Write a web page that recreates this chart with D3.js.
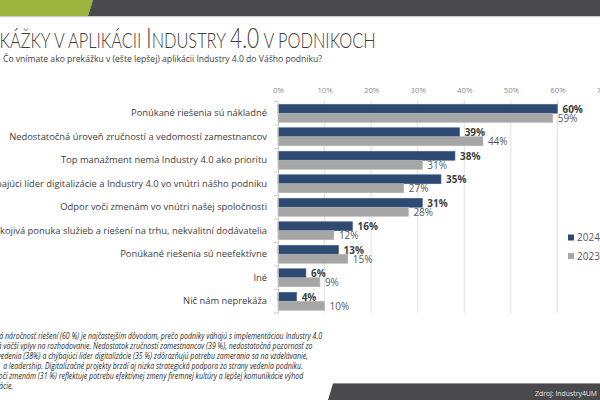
<!DOCTYPE html>
<html>
<head>
<meta charset="utf-8">
<script src="https://cdn.jsdelivr.net/npm/d3@7"></script>
<style>
  html, body { margin: 0; padding: 0; background: #fff; }
  svg { display: block; }
</style>
</head>
<body>
<svg id="chart" width="600" height="400"></svg>
<script>
// ---------------- DATA ----------------
const categories = [
  "Ponúkané riešenia sú nákladné",
  "Nedostatočná úroveň zručností a vedomostí zamestnancov",
  "Top manažment nemá Industry 4.0 ako prioritu",
  "Chýbajúci líder digitalizácie a Industry 4.0 vo vnútri nášho podniku",
  "Odpor voči zmenám vo vnútri našej spoločnosti",
  "Neuspokojivá ponuka služieb a riešení na trhu, nekvalitní dodávatelia",
  "Ponúkané riešenia sú neefektívne",
  "Iné",
  "Nič nám neprekáža"
];
const values2024 = [60, 39, 38, 35, 31, 16, 13, 6, 4];
const values2023 = [59, 44, 31, 27, 28, 12, 15, 9, 10];
const seriesNames = ["2024", "2023"];
const xTicks = [0, 10, 20, 30, 40, 50, 60, 70];

const titleParts = [
  { t: "P", big: true }, { t: "REKÁŽKY V APLIKÁCII ", big: false },
  { t: "I", big: true }, { t: "NDUSTRY ", big: false },
  { t: "4.0", big: true }, { t: " V PODNIKOCH", big: false }
];
const subtitle = "Čo vnímate ako prekážku v (ešte lepšej) aplikácii Industry 4.0 do Vášho podniku?";
const noteLines = [
  { text: "Finančná náročnosť riešení (60 %) je najčastejším dôvodom, prečo podniky váhajú s implementáciou Industry 4.0", anchor: "náročnosť", x: 5 },
  { text: "a má väčší vplyv na rozhodovanie. Nedostatok zručností zamestnancov  (39 %), nedostatočná pozornosť zo", anchor: "väčší", x: 3.3 },
  { text: "strany vedenia (38%) a chýbajúci líder digitalizácie (35 %) zdôrazňujú potrebu zamerania sa na vzdelávanie,", anchor: "edenia", x: 0.8 },
  { text: "a leadership. Digitalizačné projekty brzdí aj nízka strategická podpora zo strany vedenia podniku.", anchor: "a leadership", x: 3.3 },
  { text: "Odpor voči zmenám (31 %) reflektuje potrebu efektívnej zmeny firemnej kultúry a lepšej komunikácie výhod", anchor: "či zmenám", x: 2.5 },
  { text: "digitalizácie.", anchor: "cie.", x: 3 }
];
const sourceText = "Zdroj: Industry4UM";

// ---------------- SETUP ----------------
const svg = d3.select("#chart");
const FONT = "'Open Sans', 'DejaVu Sans', sans-serif";
const colors = { "2024": "#2e4a73", "2023": "#a6a6a6" };

// top banner
svg.append("polygon").attr("points", "0,0 93,0 88,16 0,16").attr("fill", "#9db53d");
svg.append("polygon").attr("points", "93,0 600,0 600,16 88,16").attr("fill", "#4a4a4c");
svg.append("rect").attr("x", 0).attr("y", 16).attr("width", 600).attr("height", 1.2).attr("fill", "#c9c9c9");

// title (small caps built from separate text pieces)
const titleG = svg.append("g");
const titleTexts = titleG.selectAll("text").data(titleParts).join("text")
  .attr("y", 47.5).attr("fill", "#404040")
  .style("font-family", "Lato, 'Open Sans', sans-serif").style("font-weight", 300)
  .style("white-space", "pre")
  .attr("font-size", d => d.big ? 27 : 21).text(d => d.t);
(function fitTitle() {
  const nodes = titleTexts.nodes();
  const widths = nodes.map(n => n.getComputedTextLength());
  const total = d3.sum(widths);
  const pre = widths[0] + nodes[1].getSubStringLength(0, 2);
  const r = 376.5 / (total - pre);
  let cx = -pre * r - 0.5;
  nodes.forEach((n, i) => {
    d3.select(n).attr("x", cx).attr("textLength", widths[i] * r - 0.3)
      .attr("lengthAdjust", "spacingAndGlyphs");
    cx += widths[i] * r;
  });
})();

// subtitle
const sub = svg.append("text").attr("x", 3).attr("y", 61.5).attr("fill", "#404040")
  .style("font-family", FONT).attr("font-size", 8.6).text(subtitle);
sub.attr("textLength", 319).attr("lengthAdjust", "spacingAndGlyphs");

// ---------------- CHART ----------------
const x = d3.scaleLinear().domain([0, 70]).range([278, 604]);
const y = d3.scaleBand().domain(categories).range([101.5, 313]);
const ySub = d3.scaleBand().domain(seriesNames).range([0, y.bandwidth()]).paddingOuter(0.306);

// gridlines
svg.append("g").selectAll("line").data(xTicks.filter(d => d > 0)).join("line")
  .attr("x1", d => x(d)).attr("x2", d => x(d))
  .attr("y1", 100).attr("y2", 313)
  .attr("stroke", "#d9d9d9").attr("stroke-width", 0.8);

// top axis labels
const xAxis = svg.append("g").attr("transform", "translate(0,90)")
  .call(d3.axisTop(x).tickValues(xTicks).tickFormat(d => d + "%").tickSize(0).tickPadding(0));
xAxis.select(".domain").remove();
xAxis.selectAll("text").attr("fill", "#8c8c8c").style("font-family", FONT)
  .attr("font-size", 7.8).attr("dy", "0.32em");

// bars
const rows = categories.map((c, i) => ({ c, v: { "2024": values2024[i], "2023": values2023[i] } }));
const flat = [];
rows.forEach(r => seriesNames.forEach(s => flat.push({ c: r.c, s, v: r.v[s] })));

svg.append("g").selectAll("rect").data(flat).join("rect")
  .attr("x", x(0))
  .attr("y", d => y(d.c) + ySub(d.s))
  .attr("width", d => x(d.v) - x(0))
  .attr("height", ySub.bandwidth())
  .attr("fill", d => colors[d.s])
  .attr("stroke", d => d.s === "2024" ? "#4a6791" : "#b3b3b3")
  .attr("stroke-width", 0.6);

// value labels
svg.append("g").selectAll("text").data(flat).join("text")
  .attr("x", d => x(d.v) + 5)
  .attr("y", d => y(d.c) + ySub(d.s) + ySub.bandwidth() / 2 + 0.3)
  .attr("dy", "0.35em")
  .style("font-family", FONT)
  .attr("font-size", 10)
  .attr("font-weight", d => d.s === "2024" ? 700 : 400)
  .attr("fill", d => d.s === "2024" ? "#3f3f3f" : "#595959")
  .text(d => d.v + "%");

// left axis
const yAxis = svg.append("g").attr("transform", `translate(${x(0)},0)`)
  .call(d3.axisLeft(y).tickSize(0).tickPadding(11));
yAxis.select(".domain").attr("stroke", "#bfbfbf").attr("stroke-width", 0.8);
yAxis.selectAll("text").attr("fill", "#404040").style("font-family", FONT).attr("font-size", 9);
// category boundary tick marks
svg.append("g").selectAll("line")
  .data(categories.map(c => y(c)).concat([y(categories[categories.length - 1]) + y.bandwidth()]))
  .join("line")
  .attr("x1", x(0) - 4).attr("x2", x(0)).attr("y1", d => d).attr("y2", d => d)
  .attr("stroke", "#bfbfbf").attr("stroke-width", 0.8);
(function fitLabels() {
  const texts = yAxis.selectAll("text").nodes();
  const ref = texts[0].getComputedTextLength();
  const r = 136 / ref;
  texts.forEach(n => {
    const w = n.getComputedTextLength();
    d3.select(n).attr("textLength", w * r).attr("lengthAdjust", "spacingAndGlyphs");
  });
})();

// legend
const legend = svg.append("g").selectAll("g").data(seriesNames).join("g")
  .attr("transform", (d, i) => `translate(568,${237.5 + i * 18.5})`);
legend.append("rect").attr("x", 0).attr("y", -3).attr("width", 6).attr("height", 6)
  .attr("fill", d => colors[d]);
legend.append("text").attr("x", 9).attr("dy", "0.36em").attr("fill", "#595959")
  .style("font-family", FONT).attr("font-size", 10).text(d => d);

// ---------------- NOTE TEXT ----------------
const notes = svg.append("g").selectAll("text").data(noteLines).join("text")
  .attr("y", (d, i) => 338.5 + i * 10)
  .attr("fill", "#1f1f1f")
  .style("font-family", FONT).style("font-style", "italic")
  .attr("font-size", 8.4)
  .text(d => d.text);
(function fitNotes() {
  const nodes = notes.nodes();
  const n0 = nodes[0];
  const i0 = noteLines[0].text.indexOf(noteLines[0].anchor);
  const total0 = n0.getComputedTextLength();
  const pre0 = n0.getSubStringLength(0, i0);
  const r = (322 - noteLines[0].x) / (total0 - pre0);
  nodes.forEach((n, k) => {
    const d = noteLines[k];
    const idx = d.text.indexOf(d.anchor);
    const w = n.getComputedTextLength();
    const pre = idx > 0 ? n.getSubStringLength(0, idx) : 0;
    d3.select(n).attr("textLength", w * r).attr("lengthAdjust", "spacingAndGlyphs")
      .attr("x", d.x - pre * r);
  });
})();

// footer
svg.append("polygon").attr("points", "333,383.5 600,383.5 600,400 328,400").attr("fill", "#4a4a4c");
svg.append("line").attr("x1", 333).attr("x2", 600).attr("y1", 383.5).attr("y2", 383.5)
  .attr("stroke", "#8f8f8f").attr("stroke-width", 0.8);
svg.append("text").attr("x", 597).attr("y", 395.5).attr("text-anchor", "end")
  .attr("fill", "#e3e3e3").style("font-family", FONT).attr("font-size", 7.8)
  .attr("textLength", 62).attr("lengthAdjust", "spacingAndGlyphs")
  .text(sourceText);
</script>
</body>
</html>
